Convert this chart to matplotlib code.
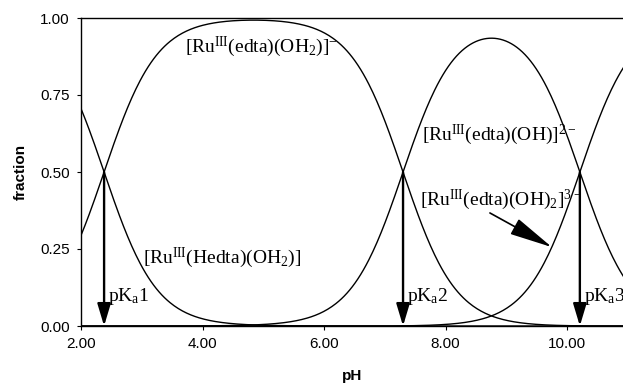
import numpy as np
import matplotlib
matplotlib.use('Agg')
import matplotlib.pyplot as plt

# acid dissociation constants read from the arrows
pka_values = [2.38, 7.30, 10.21]
pka_labels = [r'pK$\mathregular{_a}$1', r'pK$\mathregular{_a}$2', r'pK$\mathregular{_a}$3']
species_labels = [
    r'[Ru$\mathregular{^{III}}$(Hedta)(OH$\mathregular{_2}$)]',
    r'[Ru$\mathregular{^{III}}$(edta)(OH$\mathregular{_2}$)]$\mathregular{^{-}}$',
    r'[Ru$\mathregular{^{III}}$(edta)(OH)]$\mathregular{^{2-}}$',
    r'[Ru$\mathregular{^{III}}$(edta)(OH)$\mathregular{_2}$]$\mathregular{^{3-}}$',
]
x_ticks = [2, 4, 6, 8, 10]
y_ticks = [0.0, 0.25, 0.50, 0.75, 1.00]

plt.rcParams['mathtext.fontset'] = 'custom'
plt.rcParams['mathtext.rm'] = 'Liberation Serif'

ph = np.linspace(2, 11, 400)
# speciation fractions from the pKa values
terms = [np.ones_like(ph)]
for k in range(len(pka_values)):
    terms.append(terms[-1] * 10 ** (ph - pka_values[k]))
total = sum(terms)
fractions = [t / total for t in terms]

fig = plt.figure(figsize=(6.23, 3.86), dpi=100)
ax = fig.add_axes([81 / 623, 1 - 326 / 386, 1 - 81 / 623, 308 / 386])

for f in fractions:
    ax.plot(ph, f, color='black', lw=1.0)

ax.set_xlim(2, 10.92)
ax.set_ylim(0, 1)
ax.set_xticks(x_ticks)
ax.set_xticklabels(['%.2f' % v for v in x_ticks])
ax.set_yticks(y_ticks)
ax.set_yticklabels(['%.2f' % v for v in y_ticks])
ax.spines['right'].set_visible(False)
for s in ax.spines.values():
    s.set_linewidth(1.0)
ax.tick_params(direction='out', length=3, width=0.8, labelsize=11,
               labelfontfamily='Liberation Sans', pad=5)
ax.set_xlabel('pH', fontsize=11, fontweight='bold', family='Liberation Sans', labelpad=13)
ax.set_ylabel('fraction', fontsize=11, fontweight='bold', family='Liberation Sans', labelpad=9)

serif = dict(family='Liberation Serif', fontsize=14, va='center', ha='left')

for p, lab in zip(pka_values, pka_labels):
    ax.annotate('', xy=(p, 0), xytext=(p, 0.5),
                arrowprops=dict(arrowstyle='-|>,head_length=0.9,head_width=0.27',
                                mutation_scale=15, lw=1.7, color='black',
                                shrinkA=0, shrinkB=0))
    ax.text(p + 0.06, 0.097, lab, **serif)

ax.text(3.02, 0.221, species_labels[0], **serif)
ax.text(3.71, 0.905, species_labels[1], **serif)
ax.text(7.61, 0.62, species_labels[2], **serif)
ax.text(7.58, 0.409, species_labels[3], **serif)

ax.annotate('', xy=(9.75, 0.256), xytext=(8.73, 0.367),
            arrowprops=dict(arrowstyle='-|>,head_length=1.5,head_width=0.3',
                            mutation_scale=18, lw=1.2, color='black',
                            shrinkA=0, shrinkB=0))

fig.savefig('out.png', dpi=100)
